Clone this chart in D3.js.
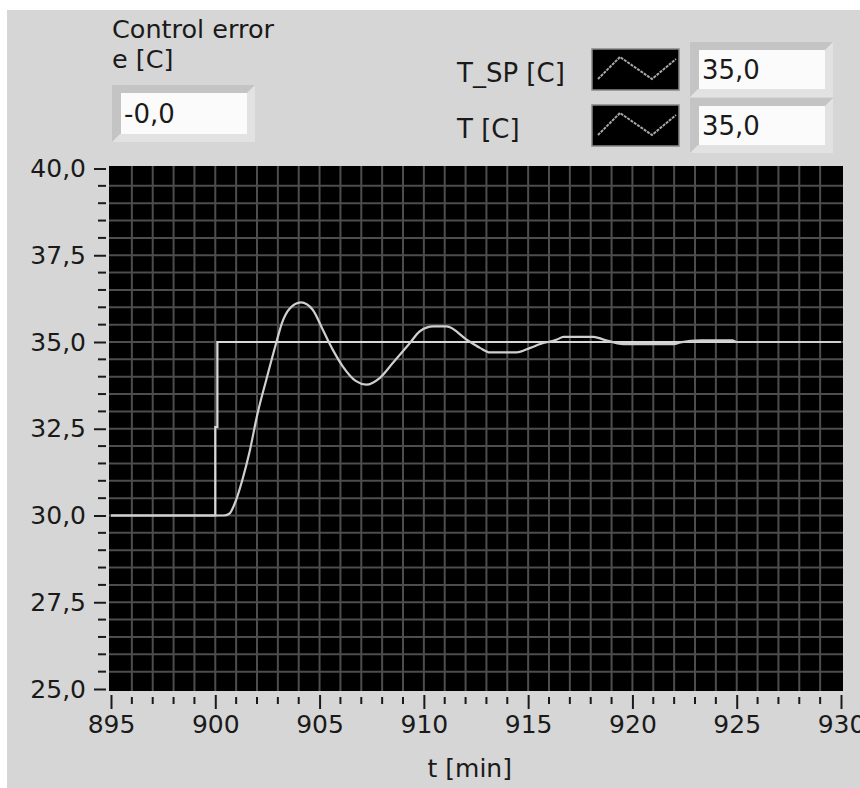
<!DOCTYPE html>
<html>
<head>
<meta charset="utf-8">
<script src="https://cdn.jsdelivr.net/npm/d3@7"></script>
<style>
  body { margin: 0; background: #ffffff; }
  text { font-family: "DejaVu Sans", sans-serif; fill: #1a1a1a; }
</style>
</head>
<body>
<svg id="chart" width="860" height="788"></svg>
<script>
// setpoint T_SP [C]
const spTime = [895, 900.0, 900.0, 900.1, 900.1, 930];
const spTemp = [30, 30, 32.55, 32.55, 35, 35];

// measured T [C]
const tTime = [895, 900.0, 900.4, 900.67, 901.0, 901.3, 901.63, 902.03, 902.44, 902.92, 903.2, 903.55, 904.11,
               904.67, 905.15, 905.63, 906.11, 906.75, 907.24, 907.88, 908.52, 909.33, 909.81,
               910.45, 911.09, 912.05, 912.69, 913.17, 914.45, 915.1, 915.58, 916.38, 916.7,
               918.14, 918.62, 919.58, 921.98, 922.3, 923.27, 924.79, 925.0, 927.0, 930];
const tTemp = [30, 30, 30, 30.05, 30.45, 31.03, 31.8, 32.95, 33.9, 34.97, 35.55, 35.95, 36.14,
               35.93, 35.36, 34.78, 34.30, 33.87, 33.77, 33.96, 34.40, 34.97, 35.31,
               35.45, 35.45, 35.07, 34.83, 34.70, 34.70, 34.83, 34.94, 35.07, 35.15,
               35.15, 35.07, 34.94, 34.94, 34.99, 35.05, 35.05, 35.0, 35.0, 35.0];

const xTicks = [895, 900, 905, 910, 915, 920, 925, 930];
const yTicks = [25, 27.5, 30, 32.5, 35, 37.5, 40];
// comma decimal, keeps the sign of negative zero like the front panel does
const fmt = v => (Object.is(v, -0) ? "-" : "") + d3.format(".1f")(v).replace(".", ",");

const errorLabel = ["Control error", "e [C]"];
const errorValue = -0.0;
const legendNames = ["T_SP [C]", "T [C]"];
const legendValues = [35.0, 35.0];

const svg = d3.select("#chart");
const W = 860, H = 788;

// panel
svg.append("rect").attr("x", 7).attr("y", 10).attr("width", W - 7).attr("height", H - 10)
   .attr("fill", "#d6d6d6");

const x = d3.scaleLinear().domain([895, 930]).range([111, 841]);
const y = d3.scaleLinear().domain([25, 40]).range([689, 168.5]);

// plot area
svg.append("rect").attr("x", 109).attr("y", 166).attr("width", 734).attr("height", 525)
   .attr("fill", "#000");

const grid = svg.append("g").attr("stroke", "#4d4d4d").attr("stroke-width", 2);
grid.selectAll("line.v").data(d3.range(896, 930, 1)).join("line").attr("class", "v")
    .attr("x1", d => x(d)).attr("x2", d => x(d)).attr("y1", 166).attr("y2", 691);
grid.selectAll("line.h").data(d3.range(25.5, 40, 0.5)).join("line").attr("class", "h")
    .attr("y1", d => y(d)).attr("y2", d => y(d)).attr("x1", 109).attr("x2", 843);

// y axis
const yAxis = svg.append("g").attr("transform", "translate(106,0)")
    .call(d3.axisLeft(y).tickValues(yTicks).tickFormat(fmt).tickSize(12).tickPadding(8));
yAxis.select(".domain").remove();
yAxis.selectAll(".tick line").attr("stroke", "#1a1a1a").attr("stroke-width", 2);
yAxis.selectAll(".tick text").attr("font-size", 25).attr("font-family", "DejaVu Sans").attr("fill", "#1a1a1a");
svg.append("g").selectAll("line").data(d3.range(25.5, 40, 0.5).filter(v => v % 2.5 !== 0))
   .join("line").attr("x1", 98).attr("x2", 106).attr("y1", d => y(d)).attr("y2", d => y(d))
   .attr("stroke", "#1a1a1a").attr("stroke-width", 2);

// x axis
const xAxis = svg.append("g").attr("transform", "translate(0,695)")
    .call(d3.axisBottom(x).tickValues(xTicks).tickFormat(d3.format("d")).tickSize(14).tickPadding(6));
xAxis.select(".domain").remove();
xAxis.selectAll(".tick line").attr("stroke", "#1a1a1a").attr("stroke-width", 2);
xAxis.selectAll(".tick text").attr("font-size", 25).attr("font-family", "DejaVu Sans").attr("fill", "#1a1a1a");
svg.append("g").selectAll("line").data(d3.range(896, 930, 1).filter(v => v % 5 !== 0))
   .join("line").attr("x1", d => x(d)).attr("x2", d => x(d)).attr("y1", 697).attr("y2", 704)
   .attr("stroke", "#1a1a1a").attr("stroke-width", 2);

svg.append("text").attr("x", x(912.2)).attr("y", 777).attr("text-anchor", "middle")
   .attr("font-size", 25).text("t [min]");

// curves
const line = d3.line().x(d => x(d[0])).y(d => y(d[1]));
svg.append("path").datum(d3.zip(spTime, spTemp)).attr("d", line)
   .attr("fill", "none").attr("stroke", "#d8d8d8").attr("stroke-width", 2.2);
svg.append("path").datum(d3.zip(tTime, tTemp)).attr("d", line.curve(d3.curveMonotoneX))
   .attr("fill", "none").attr("stroke", "#cfcfcf").attr("stroke-width", 2.2);

// numeric indicator with bevel
function indicator(x0, y0, w, h, value) {
  const g = svg.append("g");
  g.append("rect").attr("x", x0).attr("y", y0).attr("width", w).attr("height", h).attr("fill", "#c4c4c4");
  g.append("path").attr("d", `M${x0},${y0 + h}L${x0 + w},${y0 + h}L${x0 + w},${y0}L${x0 + w - 8},${y0 + 8}L${x0 + w - 8},${y0 + h - 8}L${x0 + 8},${y0 + h - 8}Z`)
   .attr("fill", "#e2e2e2");
  g.append("rect").attr("x", x0 + 9).attr("y", y0 + 8).attr("width", w - 17).attr("height", h - 16)
   .attr("fill", "#fbfbfb");
  g.append("text").attr("x", x0 + 12).attr("y", y0 + h / 2 + 9).attr("font-size", 26).text(fmt(value));
}

svg.append("text").attr("x", 112).attr("y", 38).attr("font-size", 25.5).text(errorLabel[0]);
svg.append("text").attr("x", 112).attr("y", 68).attr("font-size", 25.5).text(errorLabel[1]);
indicator(112, 85, 143, 57, errorValue);

// legend
legendNames.forEach((name, i) => {
  const top = 49 + i * 56;
  svg.append("text").attr("x", 457).attr("y", top + 33).attr("font-size", 26).text(name);
  svg.append("rect").attr("x", 592).attr("y", top).attr("width", 87).attr("height", 41)
     .attr("fill", "#000").attr("stroke", "#888").attr("stroke-width", 1.5);
  svg.append("polyline")
     .attr("points", [[598, top + 30], [620, top + 8], [652, top + 30], [676, top + 10]].map(p => p.join(",")).join(" "))
     .attr("fill", "none").attr("stroke", "#a8a8a8").attr("stroke-width", 2).attr("stroke-dasharray", "3,1");
  indicator(690, top - 7, 143, 55, legendValues[i]);
});
</script>
</body>
</html>
